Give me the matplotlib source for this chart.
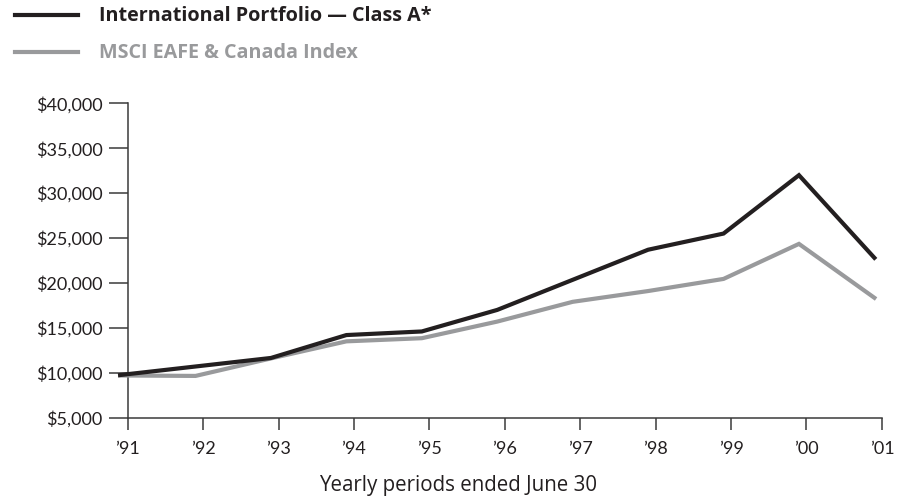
import numpy as np
import matplotlib.pyplot as plt
from matplotlib.ticker import FuncFormatter

# Growth of $10,000, yearly periods ended June 30
years = ["\u201991", "\u201992", "\u201993", "\u201994", "\u201995", "\u201996",
         "\u201997", "\u201998", "\u201999", "\u201900", "\u201901"]
portfolio = [9750, 10700, 11650, 14200, 14600, 17000, 20350, 23700, 25500, 32000, 22800]
index_msci = [9700, 9650, 11600, 13500, 13850, 15700, 17900, 19100, 20450, 24350, 18350]

black = "#231f20"
gray = "#999a9c"
axis_col = "#3a3a3a"

plt.rcParams['font.family'] = ['Lato', 'DejaVu Sans']
wide = ['Open Sans', 'DejaVu Sans']

fig = plt.figure(figsize=(8.99, 5.03), dpi=100)
ax = fig.add_axes([0.142, 0.1696, 0.839, 0.625])

xt = np.arange(len(years))
# values are plotted slightly ahead of each year tick
xp = xt - 0.1

ax.plot(xp, index_msci, color=gray, lw=3.0, solid_joinstyle='miter', clip_on=False, zorder=3)
ax.plot(xp, portfolio, color=black, lw=3.0, solid_joinstyle='miter', clip_on=False, zorder=4)

ax.set_xlim(0, 10)
ax.set_ylim(5000, 40000)
ax.set_xticks(xt)
ax.set_xticklabels(years)
ax.set_yticks(np.arange(5000, 40001, 5000))
ax.yaxis.set_major_formatter(FuncFormatter(lambda v, p: f"${v:,.0f}"))

for s in ["top", "right"]:
    ax.spines[s].set_visible(False)
for s in ["left", "bottom"]:
    ax.spines[s].set_color(axis_col)
    ax.spines[s].set_linewidth(1.1)

ax.tick_params(axis='y', direction='out', length=14, width=1.1, color=axis_col,
               pad=4, labelsize=13, labelcolor=black)
ax.tick_params(axis='x', direction='out', length=8.5, width=1.1, color=axis_col,
               pad=8.5, labelsize=13, labelcolor=black)

fig.text(458 / 899, 1 - 486 / 503, "Yearly periods ended June 30", ha='center', va='center',
         fontsize=14.8, color=black, family=wide)

# legend drawn by hand at the top-left
fig.add_artist(plt.Line2D([15 / 899, 78 / 899], [1 - 15 / 503] * 2, color=black, lw=3.0))
fig.add_artist(plt.Line2D([15 / 899, 78 / 899], [1 - 52 / 503] * 2, color=gray, lw=3.0))
fig.text(99 / 899, 1 - 16 / 503, "International Portfolio \u2014 Class A*", ha='left', va='center',
         fontsize=14.2, fontweight='bold', color=black, family=wide)
fig.text(99 / 899, 1 - 53 / 503, "MSCI EAFE & Canada Index", ha='left', va='center',
         fontsize=14.2, fontweight='bold', color=gray, family=wide)

fig.savefig("out.png", dpi=100)
